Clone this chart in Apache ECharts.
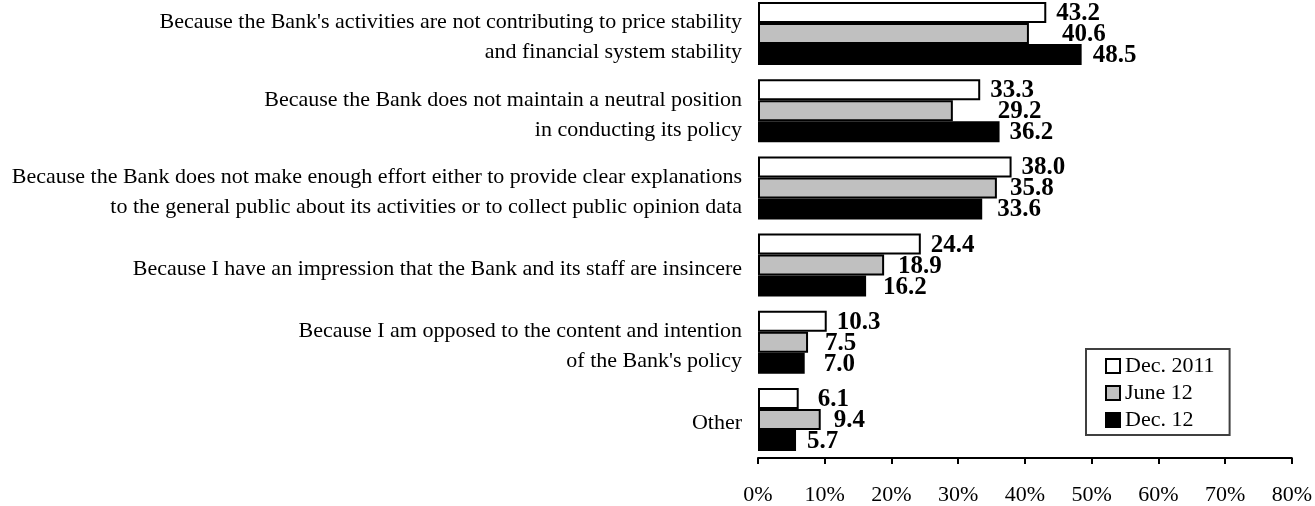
<!DOCTYPE html>
<html>
<head>
<meta charset="utf-8">
<script src="https://cdn.jsdelivr.net/npm/echarts@6/dist/echarts.min.js"></script>
<style>
  html, body { margin: 0; padding: 0; background: #fff; overflow: hidden; }
  /* the plot starts a few pixels above the page so the first bar group sits at the very top */
  #chart { position: relative; top: -5px; width: 1315px; height: 511px; }
</style>
</head>
<body>
<div id="chart"></div>
<script>
// Reasons for not trusting the Bank (%), three survey rounds
const categories = [
  "Because the Bank's activities are not contributing to price stability\nand financial system stability",
  "Because the Bank does not maintain a neutral position\nin conducting its policy",
  "Because the Bank does not make enough effort either to provide clear explanations\nto the general public about its activities or to collect public opinion data",
  "Because I have an impression that the Bank and its staff are insincere",
  "Because I am opposed to the content and intention\nof the Bank's policy",
  "Other"
];
const seriesNames = ["Dec. 2011", "June 12", "Dec. 12"];
const dec2011 = [43.2, 33.3, 38.0, 24.4, 10.3, 6.1];
const june12  = [40.6, 29.2, 35.8, 18.9, 7.5, 9.4];
const dec12   = [48.5, 36.2, 33.6, 16.2, 7.0, 5.7];
const xTicks = [0, 10, 20, 30, 40, 50, 60, 70, 80];

// extra horizontal shift (px) of each value label, to keep labels apart
const labelShift = [
  [0, 0, 0, 0, 0, 9],
  [23, 35, 3, 4, 7, 3],
  [1, 0, 5, 7, 9, 1]
];

const FONT = "'Liberation Serif', 'Times New Roman', serif";
const fills = ["#ffffff", "#c0c0c0", "#000000"];
const values = [dec2011, june12, dec12];

const chart = echarts.init(document.getElementById('chart'), null, { renderer: 'canvas' });

const series = values.map((vals, s) => ({
  name: seriesNames[s],
  type: 'bar',
  barWidth: 21,
  barGap: '0%',
  itemStyle: { color: fills[s], borderColor: '#000', borderWidth: 2 },
  label: {
    show: true,
    position: 'right',
    distance: 10,
    fontFamily: FONT,
    fontWeight: 'bold',
    fontSize: 25,
    color: '#000',
    formatter: p => p.value.toFixed(1)
  },
  data: vals.map((v, i) => ({ value: v, label: { offset: [labelShift[s][i], 1] } }))
}));

chart.setOption({
  animation: false,
  backgroundColor: '#fff',
  grid: { left: 758, right: 19, top: 0, bottom: 44, containLabel: false },
  xAxis: {
    type: 'value',
    min: xTicks[0],
    max: xTicks[xTicks.length - 1],
    interval: xTicks[1] - xTicks[0],
    axisLine: { show: true, lineStyle: { color: '#000', width: 2 } },
    axisTick: { show: true, length: 6, lineStyle: { color: '#000', width: 2 } },
    splitLine: { show: false },
    axisLabel: { formatter: '{value}%', fontFamily: FONT, fontSize: 22, color: '#000', margin: 26 }
  },
  yAxis: {
    type: 'category',
    inverse: true,
    data: categories,
    axisLine: { show: false },
    axisTick: { show: false },
    axisLabel: {
      margin: 16,
      align: 'right',
      // a thin empty first line nudges each label block slightly below the group centre
      formatter: v => '{gap| }\n' + v.split('\n').map(l => '{t|' + l + '}').join('\n'),
      rich: {
        gap: { fontSize: 1, lineHeight: 8, align: 'right' },
        t: { fontFamily: FONT, fontSize: 22, lineHeight: 30, color: '#000', align: 'right' }
      }
    }
  },
  legend: {
    orient: 'vertical',
    left: 1086,
    top: 354,
    padding: [6, 15, 4, 19],
    itemGap: 5,
    itemWidth: 14,
    itemHeight: 14,
    icon: 'rect',
    backgroundColor: '#fff',
    borderColor: '#404040',
    borderWidth: 2,
    borderRadius: 0,
    textStyle: { fontFamily: FONT, fontSize: 22, color: '#000' },
    itemStyle: { borderColor: '#000', borderWidth: 2 },
    data: seriesNames
  },
  series: series
});
</script>
</body>
</html>
